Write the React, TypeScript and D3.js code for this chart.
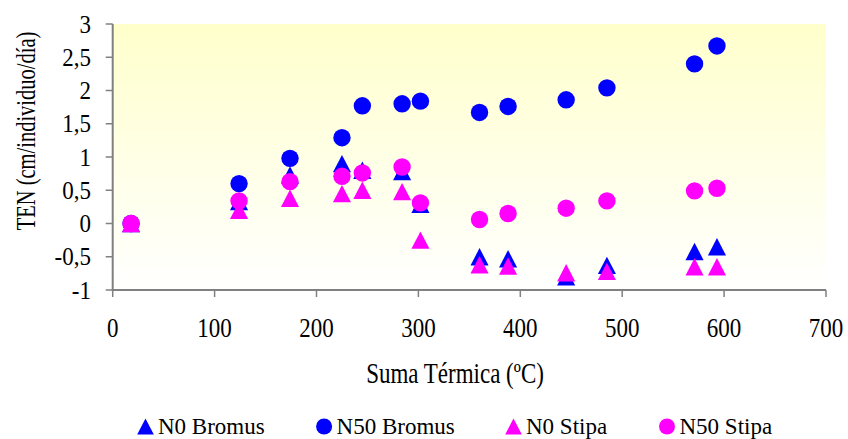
import React from "react";
import * as d3 from "d3";

// Thermal sum (ºC) at each sampling date
const sumaTermica = [18, 124, 174, 225, 245, 284, 302, 360, 388, 445, 485, 571, 593];

// Net elongation rate (cm/individuo/día) per treatment
const n0Bromus = [0, 0.33, 0.73, 0.9, 0.8, 0.78, 0.29, -0.5, -0.53, -0.8, -0.63, -0.42, -0.35];
const n50Bromus = [0, 0.6, 0.98, 1.29, 1.77, 1.8, 1.84, 1.67, 1.76, 1.86, 2.04, 2.4, 2.67];
const n0Stipa = [0, 0.2, 0.38, 0.45, 0.5, 0.48, -0.25, -0.62, -0.64, -0.74, -0.72, -0.65, -0.65];
const n50Stipa = [0, 0.34, 0.63, 0.71, 0.76, 0.85, 0.31, 0.06, 0.15, 0.23, 0.34, 0.49, 0.53];

const xTicks = [0, 100, 200, 300, 400, 500, 600, 700];
const yTicks = [-1, -0.5, 0, 0.5, 1, 1.5, 2, 2.5, 3];

const seriesNames = ["N0 Bromus", "N50 Bromus", "N0 Stipa", "N50 Stipa"];
const seriesValues = [n0Bromus, n50Bromus, n0Stipa, n50Stipa];
const seriesShapes = ["triangle", "circle", "triangle", "circle"];
const seriesColors = ["#0000FF", "#0000FF", "#FF00FF", "#FF00FF"];

const W = 848;
const H = 439;
const plot = { left: 112.7, right: 826, top: 24, bottom: 290 };
const legendTextX = [158, 336.6, 526, 679.5];

const FONT = "'Liberation Serif', 'Times New Roman', serif";
const fmt = (v: number) => String(v).replace(".", ",");

function Marker({ shape, x, y, size, color }: { shape: string; x: number; y: number; size: number; color: string }) {
  if (shape === "circle") {
    return <circle cx={x} cy={y} r={size / 2} fill={color} />;
  }
  const w = size * 1.04;
  const h = size;
  const p = d3.path();
  p.moveTo(x, y - h / 2);
  p.lineTo(x + w / 2, y + h / 2);
  p.lineTo(x - w / 2, y + h / 2);
  p.closePath();
  return <path d={p.toString()} fill={color} />;
}

export default function App() {
  const x = d3.scaleLinear().domain([0, 700]).range([plot.left, plot.right]);
  const y = d3.scaleLinear().domain([-1, 3]).range([plot.bottom, plot.top]);
  const axisColor = "#808080";

  return (
    <div style={{ position: "fixed", left: 0, top: 0, width: W, height: H, background: "#fff" }}>
      <svg width={W} height={H} style={{ display: "block", fontFamily: FONT }}>
        <defs>
          <linearGradient id="plotBg" x1="0" y1="0" x2="0" y2="1">
            <stop offset="0" stopColor="#FFFFCC" />
            <stop offset="1" stopColor="#FFFFFF" />
          </linearGradient>
        </defs>
        <rect
          x={plot.left}
          y={plot.top}
          width={plot.right - plot.left}
          height={plot.bottom - plot.top}
          fill="url(#plotBg)"
        />

        {/* axes */}
        <line x1={plot.left} x2={plot.left} y1={plot.top} y2={plot.bottom} stroke={axisColor} strokeWidth={2} />
        <line x1={plot.left - 1} x2={plot.right} y1={plot.bottom} y2={plot.bottom} stroke={axisColor} strokeWidth={2} />
        {yTicks.map((t) => (
          <g key={"y" + t}>
            <line x1={plot.left - 7} x2={plot.left} y1={y(t)} y2={y(t)} stroke={axisColor} strokeWidth={1.5} />
            <text
              transform={`translate(91, ${y(t) + 8.5}) scale(1,1.1)`}
              textAnchor="end"
              fontSize={23}
              fill="#000"
            >
              {fmt(t)}
            </text>
          </g>
        ))}
        {xTicks.map((t) => (
          <g key={"x" + t}>
            <line x1={x(t)} x2={x(t)} y1={plot.bottom} y2={plot.bottom + 7} stroke={axisColor} strokeWidth={1.5} />
            <text
              transform={`translate(${x(t)}, 336.5) scale(1,1.15)`}
              textAnchor="middle"
              fontSize={23}
              fill="#000"
            >
              {t}
            </text>
          </g>
        ))}

        {/* axis titles */}
        <text transform="translate(455, 383) scale(1,1.25)" textAnchor="middle" fontSize={23} fill="#000">
          Suma Térmica (ºC)
        </text>
        <text transform="translate(35, 131) rotate(-90) scale(1,1.3)" textAnchor="middle" fontSize={20.5} fill="#000">
          TEN (cm/individuo/día)
        </text>

        {/* data points */}
        {seriesValues.map((vals, si) => (
          <g key={seriesNames[si]}>
            {vals.map((v, i) => (
              <Marker
                key={i}
                shape={seriesShapes[si]}
                x={x(sumaTermica[i])}
                y={y(v)}
                size={17.4}
                color={seriesColors[si]}
              />
            ))}
          </g>
        ))}

        {/* legend */}
        {seriesNames.map((name, si) => (
          <g key={"lg" + name}>
            <Marker shape={seriesShapes[si]} x={legendTextX[si] - 12.5} y={426.5} size={16} color={seriesColors[si]} />
            <text x={legendTextX[si]} y={433.5} fontSize={23} fill="#000">
              {name}
            </text>
          </g>
        ))}
      </svg>
    </div>
  );
}
